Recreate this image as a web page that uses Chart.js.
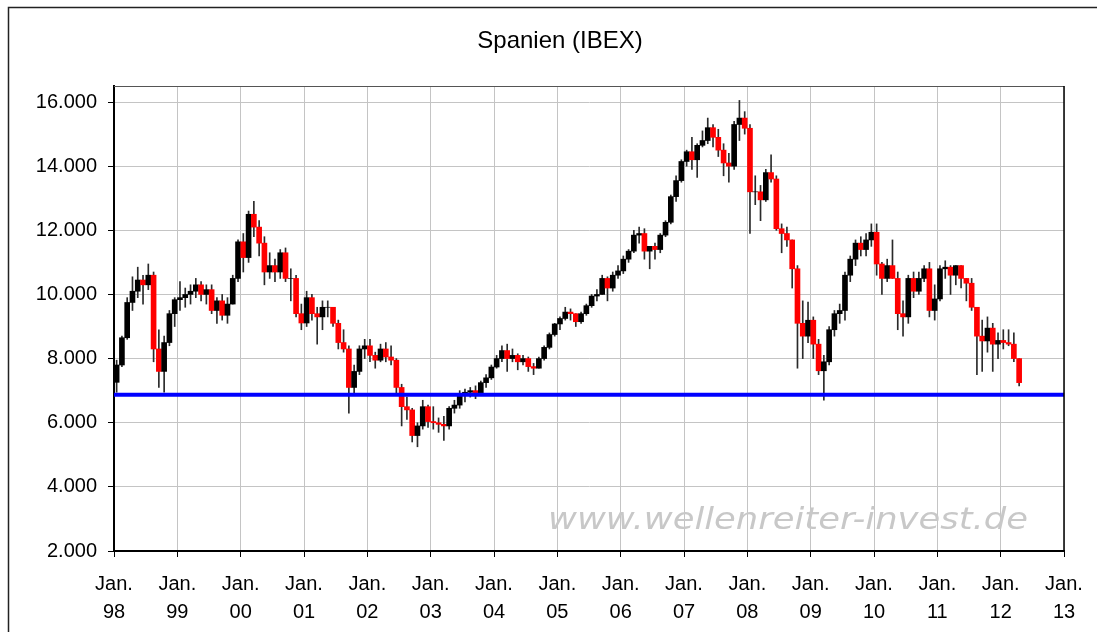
<!DOCTYPE html>
<html>
<head>
<meta charset="utf-8">
<script src="https://cdn.jsdelivr.net/npm/chart.js@4.4.0/dist/chart.umd.min.js"></script>
<style>
  body { margin: 0; background: #fff; }
  #wrap { width: 1097px; height: 632px; }
</style>
</head>
<body>
<div id="wrap"><canvas id="ibexChart" width="1097" height="632"></canvas></div>
<script>
// x axis: one tick per January, 98 .. 13
const yearLabels = ["98", "99", "00", "01", "02", "03", "04", "05", "06", "07", "08", "09", "10", "11", "12", "13"];
const yTicks = [2000, 4000, 6000, 8000, 10000, 12000, 14000, 16000];

// monthly candles Jan 1998 .. Apr 2012 (open = previous close)
const firstOpen = 7260;
const closes = [
    7800, 8650, 9750, 10100, 10450, 10300, 10600, 8300, 7600, 8500, 9400, 9837,        // 98
    9900, 10000, 10100, 10300, 10000, 10150, 9500, 9800, 9350, 9700, 10500, 11641,     // 99
    11150, 12500, 12100, 11600, 10700, 10900, 10700, 11300, 10500, 10500, 9400, 9110,  // 00
    9900, 9400, 9300, 9600, 9600, 9100, 8500, 8300, 7100, 7600, 8300, 8398,           // 01
    8100, 7950, 8300, 8050, 7950, 7100, 6500, 6400, 5600, 5900, 6500, 6036,            // 02
    6000, 5950, 5900, 6450, 6550, 6850, 6950, 7000, 6900, 7250, 7400, 7737,            // 03
    8000, 8250, 8000, 8100, 7900, 8000, 7750, 7700, 8000, 8350, 8750, 9080,            // 04
    9250, 9450, 9400, 9150, 9400, 9650, 9950, 10000, 10500, 10200, 10600, 10734,       // 05
    11100, 11350, 11850, 11900, 11350, 11500, 11400, 11850, 12250, 13050, 13550, 14146,// 06
    14450, 14200, 14650, 14800, 15200, 14900, 14500, 14100, 14000, 15300, 15500, 15182,// 07
    13200, 13200, 12950, 13800, 13600, 12050, 11900, 11700, 10800, 9100, 8700, 9196,   // 08
    8450, 7620, 7900, 8900, 9400, 9500, 10600, 11100, 11600, 11400, 11700, 11940,      // 09
    10950, 10500, 10900, 10500, 9400, 9300, 10500, 10100, 10500, 10800, 9500, 9860,    // 10
    10800, 10850, 10600, 10900, 10500, 10350, 9600, 8700, 8550, 8950, 8450, 8566,      // 11
    8500, 8450, 8000, 7250                                                             // 12
];
const highs = [
    7950, 8700, 9900, 10550, 10850, 10600, 10950, 10700, 8900, 8700, 9500, 9900,
    10400, 10200, 10300, 10500, 10400, 10300, 10300, 9900, 10000, 9900, 10600, 11700,
    11900, 12600, 12900, 12300, 11800, 11300, 11100, 11400, 11450, 10800, 10600, 9700,
    10100, 10000, 9600, 9800, 9800, 9600, 9200, 8900, 8400, 7800, 8400, 8600,
    8600, 8200, 8450, 8500, 8400, 8000, 7200, 6800, 6450, 6000, 6700, 6550,
    6500, 6150, 6200, 6500, 6700, 7000, 7050, 7100, 7150, 7300, 7500, 7800,
    8100, 8400, 8450, 8300, 8150, 8100, 8050, 7850, 8050, 8400, 8800, 9100,
    9300, 9600, 9550, 9400, 9450, 9700, 10000, 10150, 10600, 10550, 10700, 10900,
    11200, 11400, 12000, 12100, 12050, 11500, 11600, 11900, 12300, 13100, 13700, 14200,
    14500, 14900, 14700, 15100, 15500, 15300, 15150, 14700, 14400, 15400, 16050, 15700,
    15300, 13700, 13400, 13900, 14350, 13700, 12200, 12100, 11700, 10900, 9800, 9760,
    9300, 8600, 8100, 9000, 9500, 9700, 10700, 11200, 11700, 11800, 11900, 12200,
    12200, 11000, 11100, 11700, 10700, 9800, 10600, 10700, 10700, 10900, 11000, 10300,
    10900, 11050, 10900, 10900, 10900, 10500, 10500, 9600, 9200, 9300, 9100, 8800,
    8900, 8900, 8800, 8000
];
const lows = [
    6950, 7750, 8600, 9500, 9900, 9700, 10150, 7900, 7100, 6950, 8400, 9000,
    9500, 9600, 9700, 9900, 9800, 9700, 9400, 9100, 9200, 9100, 9700, 10400,
    10700, 11000, 11800, 11200, 10300, 10500, 10400, 10500, 10400, 9800, 9300, 8900,
    9000, 9200, 8450, 8900, 9300, 9000, 8300, 8200, 6300, 6900, 7500, 8000,
    7900, 7700, 7900, 7900, 7800, 6900, 5900, 6100, 5400, 5250, 5800, 5850,
    5800, 5700, 5450, 5800, 6300, 6450, 6650, 6800, 6750, 6850, 7100, 7350,
    7700, 7900, 7600, 7900, 7650, 7800, 7600, 7500, 7700, 7950, 8300, 8700,
    8900, 9200, 9200, 9000, 9100, 9350, 9600, 9800, 10000, 9800, 10100, 10500,
    10650, 11000, 11300, 11600, 11100, 10800, 11100, 11300, 11800, 12200, 12900, 13500,
    14000, 13900, 13650, 14600, 14700, 14600, 14300, 13700, 13500, 13900, 14800, 15000,
    11900, 12800, 12300, 12900, 13500, 12000, 11300, 11500, 10200, 7700, 8000, 8500,
    8000, 7500, 6700, 7800, 8700, 9100, 9200, 10400, 10900, 11200, 11200, 11500,
    10600, 10000, 10400, 10500, 8900, 8700, 9100, 9900, 10000, 10400, 9300, 9200,
    9800, 10500, 10000, 10300, 10200, 9800, 9500, 7500, 7600, 8200, 7600, 8000,
    8300, 8400, 7900, 7150
];
const supportLevel = 6870;

const bodies = [];
const wicks = [];
const rising = [];
closes.forEach((c, i) => {
    const o = i === 0 ? firstOpen : closes[i - 1];
    bodies.push({ x: i + 0.5, y: [o, c] });
    wicks.push({ x: i + 0.5, y: [lows[i], highs[i]] });
    rising.push(c >= o);
});

const fmt = v => String(v).replace(/\B(?=(\d{3})+(?!\d))/g, ".");
const font = "'Liberation Sans', Arial, sans-serif";

const frame = {
    id: "frame",
    beforeDatasetsDraw(chart) {
        const ctx = chart.ctx;
        ctx.save();
        // watermark
        ctx.font = "italic 30px 'DejaVu Sans', Verdana, sans-serif";
        ctx.fillStyle = "#c8c8c8";
        ctx.textBaseline = "alphabetic";
        const txt = "www.wellenreiter-invest.de";
        const w = ctx.measureText(txt).width;
        ctx.translate(548, 529);
        ctx.scale(480 / w, 1);
        ctx.fillText(txt, 0, 0);
        ctx.restore();
    },
    afterDraw(chart) {
        const ctx = chart.ctx;
        const a = chart.chartArea;
        ctx.save();
        // outer border
        ctx.strokeStyle = "#222";
        ctx.lineWidth = 1.5;
        ctx.beginPath();
        ctx.moveTo(8.5, 632);
        ctx.lineTo(8.5, 7.5);
        ctx.lineTo(1097, 7.5);
        ctx.stroke();
        // plot frame top / right
        ctx.lineWidth = 1;
        ctx.strokeStyle = "#555";
        ctx.beginPath();
        ctx.moveTo(a.left, a.top + 0.5);
        ctx.lineTo(a.right, a.top + 0.5);
        ctx.stroke();
        ctx.strokeStyle = "#000";
        ctx.lineWidth = 1.5;
        ctx.beginPath();
        ctx.moveTo(a.right, a.top);
        ctx.lineTo(a.right, a.bottom);
        ctx.stroke();
        // title
        ctx.fillStyle = "#000";
        ctx.font = "24px " + font;
        ctx.textAlign = "center";
        ctx.textBaseline = "middle";
        ctx.fillText("Spanien (IBEX)", 560, 41);
        ctx.restore();
    }
};

new Chart(document.getElementById("ibexChart"), {
    type: "bar",
    data: {
        datasets: [{
            type: "line",
            data: [{ x: 0, y: supportLevel }, { x: 180, y: supportLevel }],
            borderColor: "#0000ff",
            borderWidth: 4,
            pointRadius: 0,
            clip: false,
            order: 0
        }, {
            data: bodies,
            backgroundColor: ctx => rising[ctx.dataIndex] ? "#000000" : "#ff0000",
            barThickness: 5,
            grouped: false,
            order: 1
        }, {
            data: wicks,
            backgroundColor: "#2a2a2a",
            barThickness: 1,
            grouped: false,
            order: 2
        }]
    },
    options: {
        responsive: false,
        animation: false,
        layout: { padding: { top: 86, right: 33, left: 0, bottom: 0 } },
        plugins: { legend: { display: false }, tooltip: { enabled: false } },
        scales: {
            x: {
                type: "linear",
                min: 0,
                max: 180,
                offset: false,
                afterBuildTicks: s => { s.ticks = yearLabels.map((_, i) => ({ value: i * 12 })); },
                afterFit: s => { s.height = 81; },
                ticks: {
                    callback: (v, i) => ["Jan.", yearLabels[i]],
                    font: { family: font, size: 20, lineHeight: 1.4 },
                    color: "#000",
                    padding: 13,
                    maxRotation: 0,
                    autoSkip: false
                },
                grid: { offset: false, color: "#c4c4c4", tickColor: "#000", tickLength: 6 },
                border: { color: "#000", width: 2 }
            },
            y: {
                min: 2000,
                max: 16500,
                afterBuildTicks: s => { s.ticks = yTicks.map(v => ({ value: v })); },
                afterFit: s => { s.width = 114; },
                ticks: {
                    callback: v => fmt(v),
                    font: { family: font, size: 20 },
                    color: "#000",
                    padding: 11
                },
                grid: { color: "#c4c4c4", tickColor: "#000", tickLength: 6 },
                border: { color: "#000", width: 2 }
            }
        }
    },
    plugins: [frame]
});
</script>
</body>
</html>
